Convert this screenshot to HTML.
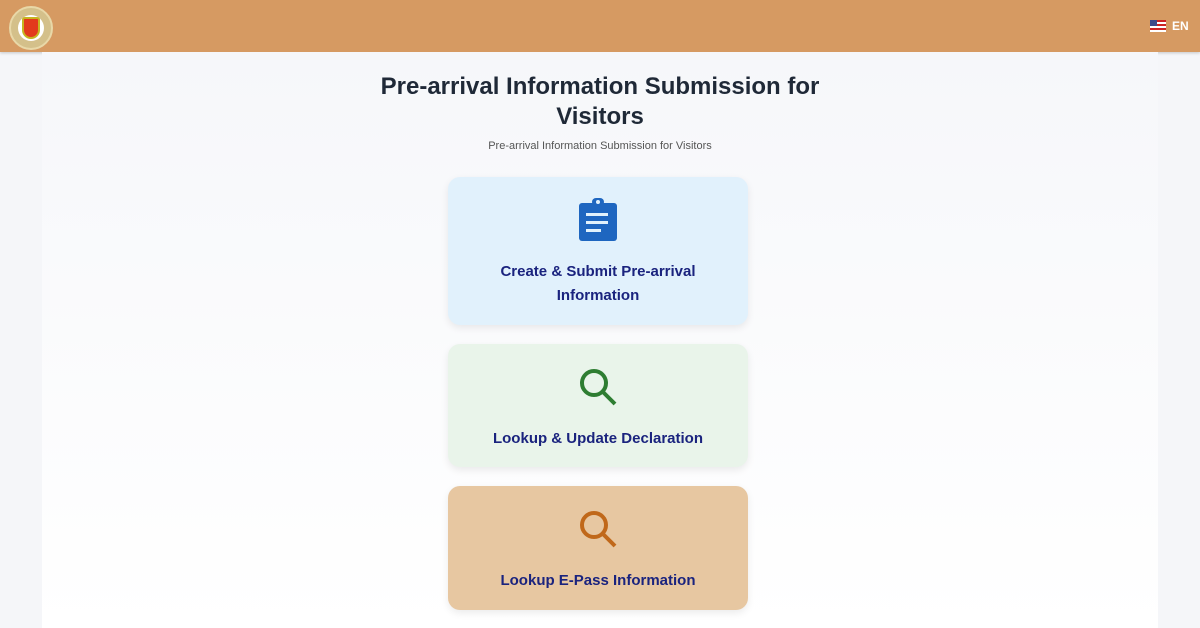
<!DOCTYPE html>
<html><head><style>
*{margin:0;padding:0;box-sizing:border-box}
body{width:1200px;height:628px;overflow:hidden;background:#f5f6f9;font-family:"Liberation Sans",sans-serif;position:relative}
.hdr{position:absolute;left:0;top:0;width:1200px;height:52px;background:#d69a62;box-shadow:0 1px 3px rgba(0,0,0,.2)}
.main{position:absolute;left:42px;top:52px;width:1116px;height:576px;background:linear-gradient(#f6f7fa,#fff)}
h1{position:absolute;left:0;width:1200px;top:72px;text-align:center;font-size:24px;line-height:30px;color:#1f2937;font-weight:bold}
.sub{position:absolute;left:0;width:1200px;top:139px;text-align:center;font-size:11px;color:#555}
.card{position:absolute;left:448px;width:300px;border-radius:12px;box-shadow:0 3px 8px rgba(0,0,0,.08);text-align:center;color:#1a237e;font-weight:bold;font-size:15px;line-height:24px}
.card svg{position:absolute;left:50%;transform:translateX(-50%)}
.card p{position:absolute;left:0;width:100%}
</style></head><body>
<div class="hdr">
<div style="position:absolute;left:9px;top:6px;width:44px;height:44px;border-radius:50%;background:#d4c08a;border:2px solid #e8d8a8"><div style="position:absolute;left:7px;top:7px;width:26px;height:26px;border-radius:50%;background:#fff"></div><div style="position:absolute;left:11px;top:9px;width:18px;height:22px;border-radius:3px 3px 10px 10px;background:#e23a1c;border:2px solid #c6b420"></div></div>
<div style="position:absolute;left:1150px;top:20px;width:16px;height:12px;background:repeating-linear-gradient(#c22 0 2px,#fff 2px 4px)"><div style="width:7px;height:6px;background:#3b4a8a"></div></div>
<div style="position:absolute;left:1172px;top:19px;font-size:12px;color:#fff;font-weight:bold">EN</div>
</div>
<div class="main"></div>
<h1>Pre-arrival Information Submission for<br>Visitors</h1>
<div class="sub" style="top:140px">Pre-arrival Information Submission for Visitors</div>
<div class="card" style="top:177px;height:148px;background:#e1f1fc">
<svg style="top:20px" width="42" height="46" viewBox="0 0 42 46"><rect x="2" y="6" width="38" height="38" rx="3" fill="#1e66c0"/><rect x="15" y="1" width="12" height="8" rx="4" fill="#1e66c0"/><circle cx="21" cy="5" r="2" fill="#e1f1fc"/><rect x="9" y="16" width="22" height="3" fill="#e1f1fc"/><rect x="9" y="24" width="22" height="3" fill="#e1f1fc"/><rect x="9" y="32" width="15" height="3" fill="#e1f1fc"/></svg>
<p style="top:83px">Create &amp; Submit Pre-arrival<br>Information</p></div>
<div class="card" style="top:344px;height:123px;background:#e9f4ea">
<svg style="top:23px" width="40" height="40" viewBox="0 0 40 40"><circle cx="16" cy="16" r="12" fill="none" stroke="#2e7d32" stroke-width="4"/><line x1="25" y1="25" x2="37" y2="37" stroke="#2e7d32" stroke-width="4"/></svg>
<p style="top:83px">Lookup &amp; Update Declaration</p></div>
<div class="card" style="top:486px;height:124px;background:#e7c7a1">
<svg style="top:23px" width="40" height="40" viewBox="0 0 40 40"><circle cx="16" cy="16" r="12" fill="none" stroke="#c0681a" stroke-width="4"/><line x1="25" y1="25" x2="37" y2="37" stroke="#c0681a" stroke-width="4"/></svg>
<p style="top:83px">Lookup E-Pass Information</p></div>
</body></html>
